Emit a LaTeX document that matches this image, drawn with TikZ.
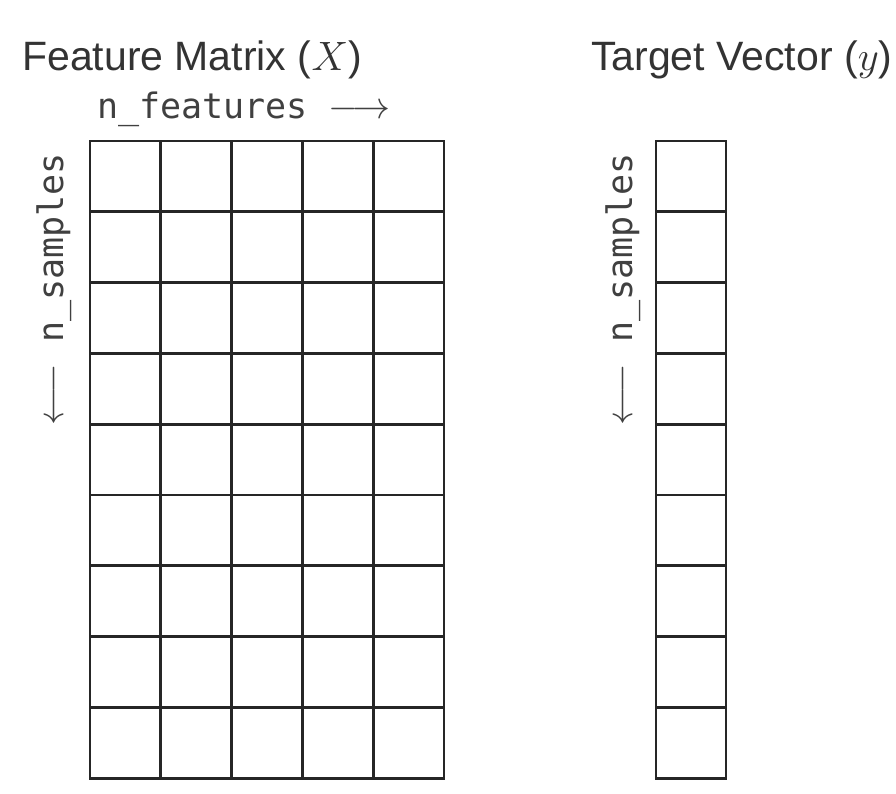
\RequirePackage{fix-cm}
\documentclass[tikz,border=0pt]{standalone}
\usepackage{fontspec}
\setmainfont{Liberation Sans}
\setmonofont{DejaVu Sans Mono}
\begin{document}
\begin{tikzpicture}[x=1pt,y=1pt,
  cell/.style={draw=black!85, line width=2.8pt, minimum width=70.8pt, minimum height=70.8pt, inner sep=0pt, outer sep=0pt},
  title/.style={font=\fontsize{41}{45}\selectfont, text=black!80, inner sep=0pt},
  dimlabel/.style={font=\fontsize{35}{40}\selectfont\ttfamily, text=black!75, inner sep=0pt}]
\useasboundingbox (0,0) rectangle (896,-793);
\foreach \i in {0,...,8}{
  \foreach \j in {0,...,4}{
    \node[cell] (m-\i-\j) at ({90+70.8*(\j+0.5)},{-(141+70.8*(\i+0.5))}) {};
  }
  \node[cell, minimum width=70pt] (v-\i) at (691,{-(141+70.8*(\i+0.5))}) {};
}
\node[title, anchor=base west] (tx) at (22,-70) {Feature Matrix ($X$)};
\node[title, anchor=base west] (ty) at (591,-70) {Target Vector ($y$)};
\node[dimlabel, anchor=base west] (nf) at (97,-118) {n\_features~{\fontsize{38}{40}\selectfont$\longrightarrow$}};
\node[dimlabel, rotate=90, anchor=base east] (ns1) at (63,-153) {{\fontsize{38}{40}\selectfont$\longleftarrow$}~n\_samples};
\node[dimlabel, rotate=90, anchor=base east] (ns2) at (632,-153) {{\fontsize{38}{40}\selectfont$\longleftarrow$}~n\_samples};
\end{tikzpicture}
\end{document}
